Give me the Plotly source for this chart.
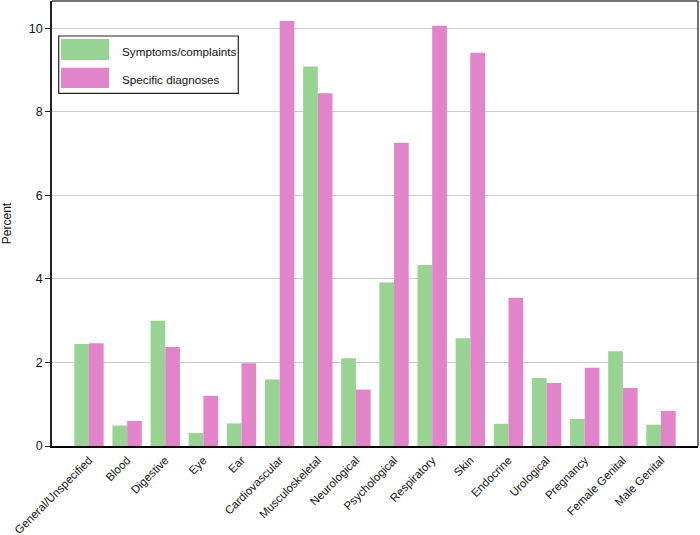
import plotly.graph_objects as go

categories = ["General/Unspecified", "Blood", "Digestive", "Eye", "Ear", "Cardiovascular",
              "Musculoskeletal", "Neurological", "Psychological", "Respiratory", "Skin",
              "Endocrine", "Urological", "Pregnancy", "Female Genital", "Male Genital"]
symptoms = [2.44, 0.49, 3.00, 0.31, 0.54, 1.59, 9.08, 2.10, 3.91, 4.33, 2.58, 0.53, 1.63, 0.65, 2.27, 0.51]
diagnoses = [2.46, 0.60, 2.37, 1.20, 1.98, 10.17, 8.44, 1.35, 7.26, 10.06, 9.41, 3.55, 1.51, 1.87, 1.39, 0.84]
series_names = ["Symptoms/complaints", "Specific diagnoses"]
y_ticks = [0, 2, 4, 6, 8, 10]

GREEN = "#98D394"
PINK = "#E184CA"
FONT = "Liberation Sans, Arial, sans-serif"

fig = go.Figure()
fig.add_trace(go.Bar(x=categories, y=symptoms, name=series_names[0], marker_color=GREEN,
                     marker_line_width=0, showlegend=False))
fig.add_trace(go.Bar(x=categories, y=diagnoses, name=series_names[1], marker_color=PINK,
                     marker_line_width=0, showlegend=False))

W, H = 700, 535
L, R, T, B = 52, 2, 1, 89
pw, ph = W - L - R, H - T - B

def px(x):
    return (x - L) / pw

def py(y):
    return (H - B - y) / ph

shapes = [
    dict(type="line", xref="paper", yref="paper", x0=0, x1=1, y0=1, y1=1,
         line=dict(color="#444444", width=1.5)),
    dict(type="line", xref="paper", yref="paper", x0=1, x1=1, y0=0, y1=1,
         line=dict(color="#444444", width=1.5)),
    # legend box
    dict(type="rect", xref="paper", yref="paper", x0=px(58.7), x1=px(238.3), y0=py(93.3), y1=py(36),
         line=dict(color="#222222", width=1.2), fillcolor="white"),
    dict(type="rect", xref="paper", yref="paper", x0=px(61), x1=px(109), y0=py(60), y1=py(39),
         line=dict(width=0), fillcolor=GREEN),
    dict(type="rect", xref="paper", yref="paper", x0=px(61), x1=px(109), y0=py(88), y1=py(67.7),
         line=dict(width=0), fillcolor=PINK),
]
annotations = [
    dict(xref="paper", yref="paper", x=px(120), y=py(51.5), text=series_names[0], showarrow=False,
         xanchor="left", yanchor="middle", font=dict(size=11.7, color="#111111", family=FONT)),
    dict(xref="paper", yref="paper", x=px(120), y=py(79), text=series_names[1], showarrow=False,
         xanchor="left", yanchor="middle", font=dict(size=11.7, color="#111111", family=FONT)),
]

fig.update_layout(
    width=W, height=H,
    margin=dict(l=L, r=R, t=T, b=B, autoexpand=False),
    plot_bgcolor="white", paper_bgcolor="white",
    barmode="group", bargap=0.23, bargroupgap=0,
    font=dict(family=FONT, size=12, color="#111111"),
    shapes=shapes, annotations=annotations,
    showlegend=False,
)
fig.update_xaxes(
    range=[-0.97, 15.97], tickangle=-45, showline=True, linecolor="black", linewidth=2,
    ticks="", showgrid=False, automargin=False, ticklabelstandoff=1,
    tickfont=dict(size=11.5, family=FONT, color="#111111"),
)
fig.update_yaxes(
    range=[0, 10.65], tickvals=y_ticks, showline=True, linecolor="#222222", linewidth=1.5,
    ticks="outside", ticklen=5, tickcolor="#222222", showgrid=True, gridcolor="#CCCCCC", gridwidth=1,
    zeroline=False, automargin=False,
    title=dict(text="Percent", font=dict(size=12, family=FONT), standoff=15),
    tickfont=dict(size=12.5, family=FONT, color="#111111"),
)

fig.write_html("out.html", config={"displayModeBar": False})

# remove the browser's default page margin so the figure sits at the window's top-left corner
with open("out.html", "r", encoding="utf-8") as f:
    html = f.read()
html = html.replace("<body>", '<body style="margin:0;padding:0;">', 1)
with open("out.html", "w", encoding="utf-8") as f:
    f.write(html)
